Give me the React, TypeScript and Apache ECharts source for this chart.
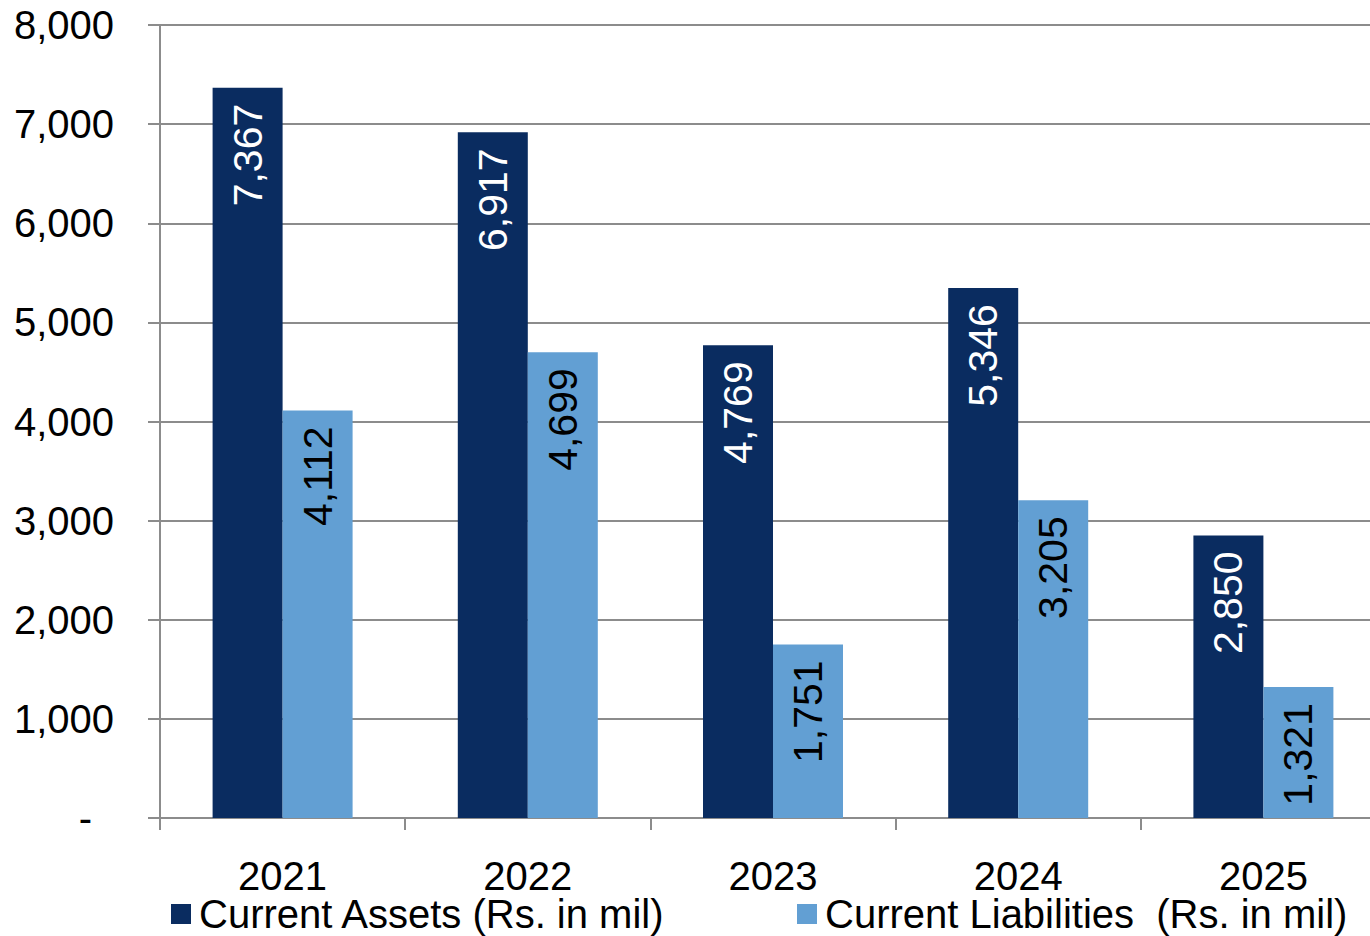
import React, { useEffect, useRef } from "react";
import * as echarts from "echarts";

const years = ["2021", "2022", "2023", "2024", "2025"];
const currentAssets = [7367, 6917, 4769, 5346, 2850];
const currentLiabilities = [4112, 4699, 1751, 3205, 1321];
const yTicks = { min: 0, max: 8000, interval: 1000 };

const DARK = "#0a2c60";
const LIGHT = "#629fd3";
const GRAY = "#8c8c8c";
const FONT = "'Liberation Sans', Arial, sans-serif";

const fmt = (v: number) => v.toLocaleString("en-US");

export default function App() {
  const ref = useRef<HTMLDivElement>(null);
  useEffect(() => {
    document.body.style.margin = "0";
    document.body.style.overflow = "hidden";
    const chart = echarts.init(ref.current!, undefined, { renderer: "svg" });
    const labelBase = {
      show: true,
      position: "insideTop" as const,
      rotate: 90,
      align: "right" as const,
      verticalAlign: "middle" as const,
      distance: 16,
      fontSize: 41,
      fontFamily: FONT,
      formatter: (p: any) => fmt(p.value),
    };
    const legendText = { fontSize: 40, lineHeight: 36, color: "#000", fontFamily: FONT, padding: [0, 0, 0, 3] };
    chart.setOption({
      animation: false,
      textStyle: { fontFamily: FONT },
      grid: { left: 160, top: 25, width: 1226, height: 793, containLabel: false },
      legend: [
        {
          data: ["Current Assets (Rs. in mil)"],
          left: 171,
          top: 894,
          padding: 0,
          icon: "rect",
          itemWidth: 20,
          itemHeight: 20,
          textStyle: legendText,
        },
        {
          data: ["Current Liabilities  (Rs. in mil)"],
          left: 797,
          top: 894,
          padding: 0,
          icon: "rect",
          itemWidth: 20,
          itemHeight: 20,
          textStyle: legendText,
        },
      ],
      xAxis: {
        type: "category",
        data: years,
        axisLine: { lineStyle: { color: GRAY, width: 2 } },
        axisTick: { show: true, length: 12, lineStyle: { color: GRAY, width: 2 } },
        axisLabel: { fontSize: 40, lineHeight: 36, color: "#000", margin: 40, fontFamily: FONT },
      },
      yAxis: {
        type: "value",
        min: yTicks.min,
        max: yTicks.max,
        interval: yTicks.interval,
        axisLine: { show: true, lineStyle: { color: GRAY, width: 2 } },
        axisTick: { show: true, length: 12, lineStyle: { color: GRAY, width: 2 } },
        splitLine: { lineStyle: { color: GRAY, width: 2 } },
        axisLabel: {
          fontSize: 40,
          color: "#000",
          margin: 46,
          fontFamily: FONT,
          formatter: (v: number) => (v === 0 ? "{d|-}" : fmt(v)),
          rich: { d: { fontSize: 40, fontFamily: FONT, color: "#000", padding: [0, 22, 0, 0] } },
        },
      },
      series: [
        {
          name: "Current Assets (Rs. in mil)",
          type: "bar",
          data: currentAssets,
          barWidth: 70,
          barGap: "0%",
          itemStyle: { color: DARK },
          label: { ...labelBase, color: "#fff" },
        },
        {
          name: "Current Liabilities  (Rs. in mil)",
          type: "bar",
          data: currentLiabilities,
          barWidth: 70,
          barGap: "0%",
          itemStyle: { color: LIGHT },
          label: { ...labelBase, color: "#000" },
        },
      ],
    });
    return () => chart.dispose();
  }, []);
  return (
    <div style={{ width: 1370, height: 936, overflow: "hidden", position: "relative" }}>
      <div ref={ref} style={{ width: 1386, height: 936 }} />
    </div>
  );
}
